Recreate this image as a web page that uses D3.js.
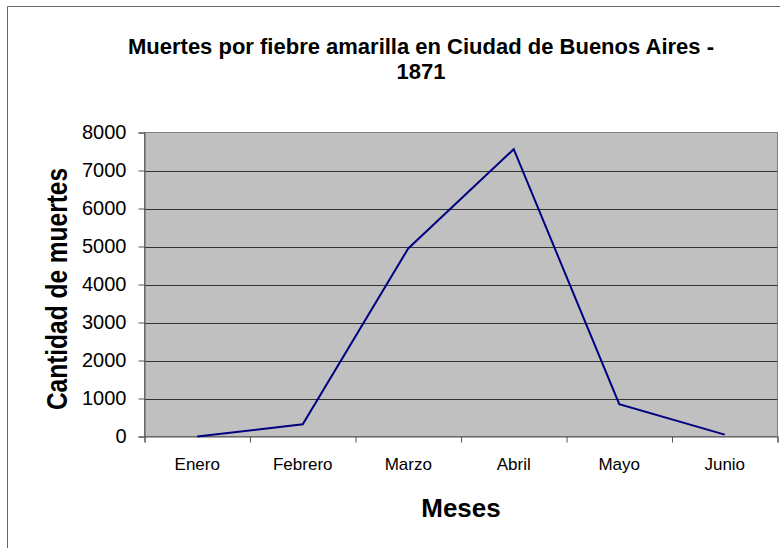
<!DOCTYPE html>
<html><head><meta charset="utf-8">
<script src="https://cdn.jsdelivr.net/npm/d3@7"></script>
<style>body{margin:0;background:#fff}svg{display:block;font-family:"Liberation Sans",Arial,sans-serif}</style>
</head><body>
<script>
const categories = ["Enero","Febrero","Marzo","Abril","Mayo","Junio"];
const deaths = [0, 320, 4950, 7560, 850, 50];
const yTicks = [0,1000,2000,3000,4000,5000,6000,7000,8000];
const titleLines = ["Muertes por fiebre amarilla en Ciudad de Buenos Aires -","1871"];
const xTitle = "Meses";
const yTitle = "Cantidad de muertes";

const W = 780, H = 548;
const m = {left:144.5, right:2.5, top:132.5, bottom:111.5};
const svg = d3.select("body").append("svg").attr("width",W).attr("height",H);

// outer border
svg.append("path").attr("d",`M7.5,${H} V6.5 H${W}`).attr("fill","none").attr("stroke","#666").attr("stroke-width",1);

const x = d3.scaleBand().domain(categories).range([m.left, W-m.right]);
const y = d3.scaleLinear().domain([0,8000]).range([H-m.bottom, m.top]);

svg.append("rect").attr("x",m.left).attr("y",m.top).attr("width",W-m.right-m.left).attr("height",H-m.bottom-m.top)
  .attr("fill","#c0c0c0").attr("stroke","#808080").attr("stroke-width",1);

// gridlines
svg.append("g").selectAll("line").data(yTicks.filter(t=>t>0 && t<8000)).join("line")
  .attr("x1",m.left).attr("x2",W-m.right).attr("y1",d=>Math.round(y(d))+0.5).attr("y2",d=>Math.round(y(d))+0.5)
  .attr("stroke","#333").attr("stroke-width",1);

// y axis
const ya = svg.append("g").attr("transform",`translate(${m.left},0)`)
  .call(d3.axisLeft(y).tickValues(yTicks).tickSize(6).tickPadding(12).tickFormat(d3.format("d")));
ya.select(".domain").attr("stroke","#555");
ya.selectAll(".tick line").attr("stroke","#555");
ya.selectAll("text").attr("font-size","20px").attr("fill","#000").attr("font-family","Liberation Sans, Arial, sans-serif");

// x axis
const xl = d3.scaleLinear().domain([0,categories.length]).range([m.left, W-m.right]);
const xa = svg.append("g").attr("transform",`translate(0,${H-m.bottom})`)
  .call(d3.axisBottom(xl).tickValues(d3.range(categories.length+1)).tickSize(6).tickFormat(""));
xa.select(".domain").attr("stroke","#555");
xa.selectAll(".tick line").attr("stroke","#555");
svg.append("g").selectAll("text").data(categories).join("text")
  .attr("x",d=>x(d)+x.bandwidth()/2).attr("y",470)
  .attr("text-anchor","middle").attr("font-size","17px").text(d=>d);

// line
const line = d3.line().x((d,i)=>x(categories[i])+x.bandwidth()/2).y(d=>y(d));
svg.append("path").datum(deaths).attr("d",line).attr("fill","none").attr("stroke","#000080").attr("stroke-width",2);

// titles
svg.append("g").selectAll("text").data(titleLines).join("text")
  .attr("x",421).attr("y",(d,i)=>53.5+i*25.5).attr("text-anchor","middle")
  .attr("font-weight","bold").attr("font-size","22px").text(d=>d);
svg.append("text").attr("x",461).attr("y",516.5).attr("text-anchor","middle")
  .attr("font-weight","bold").attr("font-size","26px").text(xTitle);
svg.append("text").attr("transform","translate(66.5,289) scale(1.2,1) rotate(-90)").attr("text-anchor","middle")
  .attr("font-weight","bold").attr("font-size","24.5px").text(yTitle);
</script>
</body></html>
